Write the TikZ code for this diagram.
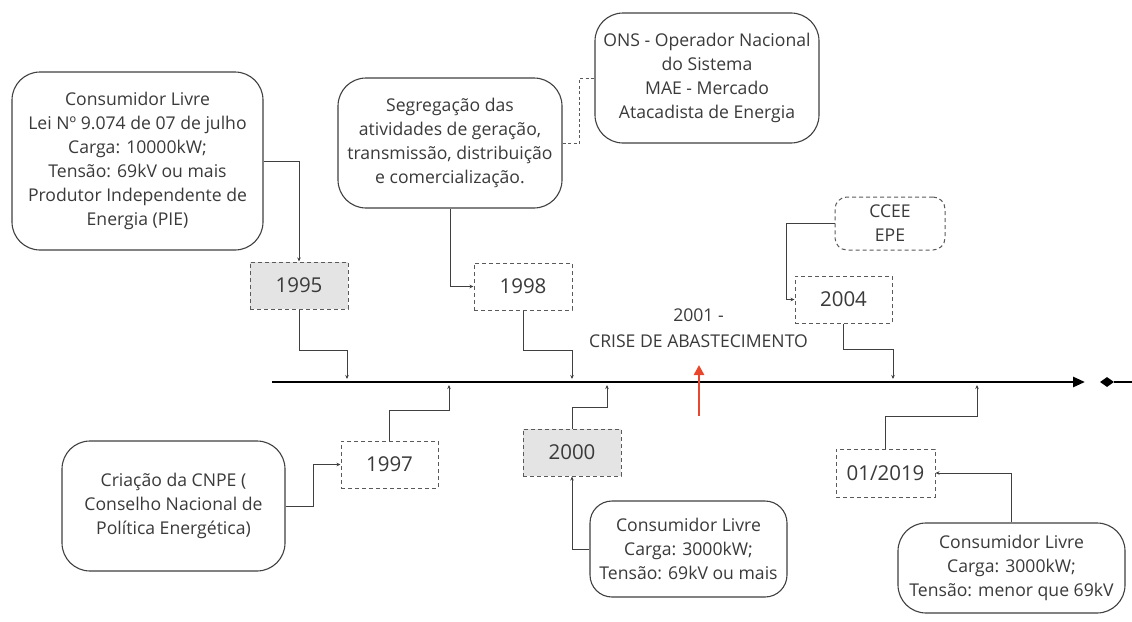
\documentclass[tikz,border=0pt]{standalone}
\usepackage{fontspec}
\setmainfont{Open Sans}
\usetikzlibrary{arrows.meta,shapes.geometric}
\definecolor{ink}{HTML}{3A3A3A}
\definecolor{edge}{HTML}{404040}
\definecolor{dashedge}{HTML}{5A5A5A}
\definecolor{shade}{HTML}{E4E4E4}
\definecolor{alert}{HTML}{E8472B}
\begin{document}
\begin{tikzpicture}[x=1pt,y=-1pt,
  every node/.style={text=ink,font=\fontsize{17.6}{24}\selectfont,align=center,inner sep=0pt},
  note/.style={draw=edge,line width=1.1pt,rounded corners=28pt,fill=white},
  smallnote/.style={draw=dashedge,line width=1pt,dash pattern=on 4pt off 3pt,rounded corners=12pt},
  yearbox/.style={draw=dashedge,line width=1pt,dash pattern=on 4pt off 3pt,fill=white,
    minimum width=98pt,minimum height=47pt,font=\fontsize{20.5}{24}\selectfont},
  keyyear/.style={yearbox,fill=shade},
  link/.style={draw=edge,line width=1pt,-{Stealth[length=4pt,width=3.5pt]}},
  dottedlink/.style={draw=dashedge,line width=1pt,dash pattern=on 3pt off 2.5pt},
]
\useasboundingbox (0,0) rectangle (1132,621);

% timeline axis
\coordinate (axL) at (272,382);
\coordinate (axR) at (1085,382);
\draw[line width=2.6pt,-{Triangle[length=12pt,width=10pt]}] (axL) -- (axR);
\node[diamond,fill=black,minimum width=14pt,minimum height=10pt] (endmark) at (1107,382) {};
\coordinate (rightend) at (1132,382);
\draw[line width=1.4pt] (endmark) -- (rightend);

% notes above the axis
\node[note,minimum width=251pt,minimum height=178pt] (cl95) at (137.5,161)
  {Consumidor Livre\\Lei Nº 9.074 de 07 de julho\\Carga: 10000kW;\\Tensão: 69kV ou mais\\Produtor Independente de\\Energia (PIE)};
\node[keyyear] (y1995) at (299,285.5) {1995};

\node[note,minimum width=224pt,minimum height=130pt] (seg) at (450,143)
  {Segregação das\\atividades de geração,\\transmissão, distribuição\\e comercialização.};
\node[yearbox] (y1998) at (523,286.5) {1998};

\node[note,minimum width=224pt,minimum height=130pt] (ons) at (707,78)
  {ONS - Operador Nacional\\do Sistema\\MAE - Mercado\\Atacadista de Energia};

\node[smallnote,minimum width=110pt,minimum height=53pt] (ccee) at (890,223.5) {CCEE\\EPE};
\node[yearbox,minimum width=97pt] (y2004) at (843.5,299.5) {2004};

\node[font=\fontsize{17.6}{26}\selectfont] (crise) at (698.5,328) {2001 -\\CRISE DE ABASTECIMENTO};

% notes below the axis
\node[note,minimum width=223pt,minimum height=130pt] (cnpe) at (173.5,506)
  {Criação da CNPE (\\Conselho Nacional de\\Política Energética)};
\node[yearbox,minimum width=97pt] (y1997) at (389.5,464.5) {1997};

\node[keyyear] (y2000) at (572,452.5) {2000};
\node[note,rounded corners=22pt,minimum width=197pt,minimum height=96pt] (cl00) at (688.5,549)
  {Consumidor Livre\\Carga: 3000kW;\\Tensão: 69kV ou mais};

\node[yearbox,minimum width=99pt,minimum height=48pt] (y2019) at (885.5,473) {01/2019};
\node[note,minimum width=227pt,minimum height=90pt] (cl19) at (1011.5,568)
  {Consumidor Livre\\Carga: 3000kW;\\Tensão: menor que 69kV};

% points where the connectors meet the axis
\coordinate (t95) at (347,379);
\coordinate (t97) at (449,385);
\coordinate (t98) at (572,379);
\coordinate (t00) at (607,385);
\coordinate (t04) at (893,379);
\coordinate (t19) at (977,385);

% connectors
\draw[link] (cl95.east) -| (y1995.north);
\draw[link] (y1995.south) -- ++(0,41) -| (t95);
\draw[link] (seg.south) |- (y1998.west);
\draw[link] (y1998.south) -- ++(0,40) -| (t98);
\draw[dottedlink] (seg.east) -- ++(17,0) |- (ons.west);
\draw[link] (ccee.west) -- ++(-48,0) |- (y2004.west);
\draw[link] (y2004.south) -- ++(0,26) -| (t04);

\draw[link] (y1997.north) -- ++(0,-30) -| (t97);
\draw[link] (cnpe.east) -- ++(28,0) |- (y1997.west);
\draw[link] (y2000.north) -- ++(0,-21) -| (t00);
\draw[link] (cl00.west) -| (y2000.south);
\draw[link] (y2019.north) -- ++(0,-32) -| (t19);
\draw[link] (cl19.north) |- (y2019.east);

% crisis marker
\coordinate (redbase) at (699,416);
\coordinate (redtip) at (699,365);
\draw[alert,line width=2.8pt,-{Triangle[length=10pt,width=10pt]}] (redbase) -- (redtip);
\end{tikzpicture}
\end{document}
